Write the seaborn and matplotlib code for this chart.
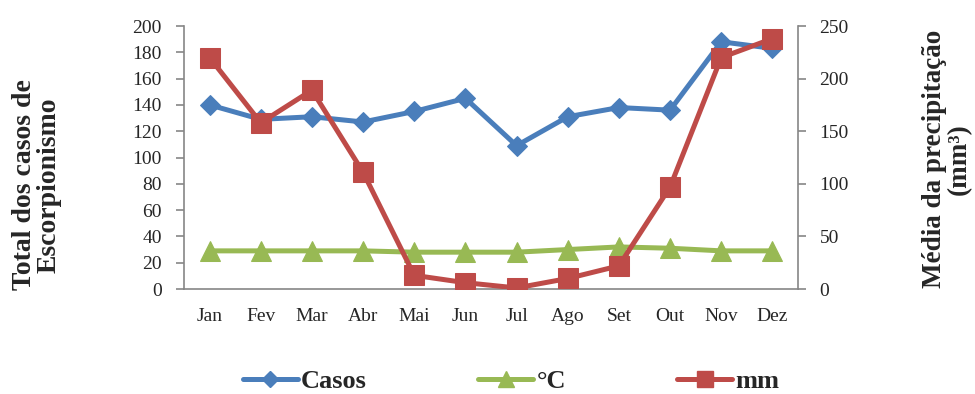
import matplotlib
matplotlib.use("Agg")
import matplotlib.pyplot as plt
import seaborn as sns
import pandas as pd
import numpy as np
from matplotlib.lines import Line2D

months = ["Jan", "Fev", "Mar", "Abr", "Mai", "Jun", "Jul", "Ago", "Set", "Out", "Nov", "Dez"]
casos = [140, 129, 131, 127, 135, 145, 109, 131, 138, 136, 188, 183]
temp_c = [29, 29, 29, 29, 28, 28, 28, 30, 32, 31, 29, 29]
chuva_mm = [220, 158, 189, 111, 13, 6, 1, 10, 22, 97, 220, 238]

left_ticks = list(range(0, 201, 20))
right_ticks = list(range(0, 251, 50))

sns.set_style("white")
plt.rcParams["font.family"] = ["Liberation Serif", "DejaVu Serif"]

BLUE = "#4A7EBB"
GREEN = "#98B954"
RED = "#BE4B48"
SPINE = "#868686"

df = pd.DataFrame({"pos": np.arange(len(months)), "mes": months,
                   "Casos": casos, "°C": temp_c, "mm": chuva_mm})

fig = plt.figure(figsize=(9.75, 3.94), dpi=100)
ax = fig.add_axes([184 / 975, 1 - 289 / 394, (798 - 184) / 975, (289 - 26) / 394])
ax2 = ax.twinx()

sns.lineplot(data=df, x="pos", y="Casos", ax=ax, color=BLUE, lw=3.6,
             marker="D", markersize=10, markeredgecolor=BLUE, zorder=3)
sns.lineplot(data=df, x="pos", y="°C", ax=ax, color=GREEN, lw=3.6,
             marker="^", markersize=14, markeredgecolor=GREEN, zorder=2)
sns.lineplot(data=df, x="pos", y="mm", ax=ax2, color=RED, lw=3.6,
             marker="s", markersize=15, markeredgecolor=RED, zorder=3)

ax.set_xlim(-0.5, len(months) - 0.5)
ax.set_ylim(0, 200)
ax2.set_ylim(0, 250)
ax.set_yticks(left_ticks)
ax2.set_yticks(right_ticks)
ax.set_xticks(df["pos"])
ax.set_xticklabels(months)
ax.set_xticks(np.arange(-0.5, len(months)), minor=True)
ax.tick_params(axis="x", which="major", length=0, pad=14, labelsize=14)
ax.tick_params(axis="x", which="minor", length=5, width=1.2, color=SPINE, direction="out")
ax.tick_params(axis="y", length=6, width=1.2, color=SPINE, direction="out", pad=10, labelsize=14)
ax2.tick_params(axis="y", length=6, width=1.2, color=SPINE, direction="out", pad=9.5, labelsize=14)
ax.set_xlabel("")
ax.set_ylabel("")
ax2.set_ylabel("")

for a in (ax, ax2):
    a.spines["top"].set_visible(False)
    for side in ("left", "bottom", "right"):
        a.spines[side].set_color(SPINE)
        a.spines[side].set_linewidth(1.2)
ax.spines["right"].set_visible(False)
ax2.spines["left"].set_visible(False)
ax2.spines["bottom"].set_visible(False)

fig.text(37 / 975, 1 - 185 / 394, "Total dos casos de\nEscorpionismo", rotation=90,
         ha="center", va="center", multialignment="center", linespacing=1.0,
         fontsize=20, fontweight="bold")
fig.text(947 / 975, 1 - 159 / 394, "Média da precipitação\n(mm³)", rotation=90,
         ha="center", va="center", multialignment="center", linespacing=1.0,
         fontsize=19.5, fontweight="bold")

handles = [
    Line2D([], [], color=BLUE, lw=3.6, marker="D", markersize=8, markeredgecolor=BLUE),
    Line2D([], [], color=GREEN, lw=3.6, marker="^", markersize=12, markeredgecolor=GREEN),
    Line2D([], [], color=RED, lw=3.6, marker="s", markersize=12, markeredgecolor=RED),
]
fig.legend(handles, ["Casos", "°C", "mm"], loc="center", ncol=3,
           bbox_to_anchor=(511 / 975, 1 - 381 / 394), frameon=False,
           prop={"size": 19, "weight": "bold"}, handlelength=2.1,
           handletextpad=0.12, columnspacing=4.2, borderpad=0)

fig.savefig("out.png", dpi=100)
